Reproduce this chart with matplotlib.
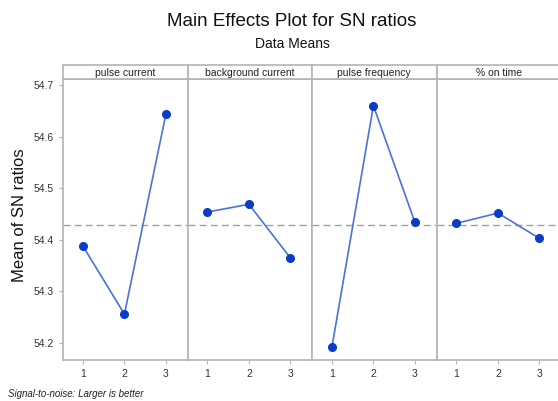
import matplotlib
matplotlib.use("Agg")
import matplotlib.pyplot as plt

plt.rcParams['font.family'] = ['Liberation Sans', 'DejaVu Sans']

factors = ['pulse current', 'background current', 'pulse frequency', '% on time']
levels = [1, 2, 3]
pulse_current = [54.388, 54.256, 54.644]
background_current = [54.454, 54.469, 54.365]
pulse_frequency = [54.192, 54.660, 54.434]
on_time = [54.432, 54.452, 54.403]
series = [pulse_current, background_current, pulse_frequency, on_time]
grand_mean = 54.429
yticks = [54.2, 54.3, 54.4, 54.5, 54.6, 54.7]

W, H = 558, 401
fig = plt.figure(figsize=(W / 100, H / 100), dpi=100)

left, pw = 63, 124.5
bottom, top, strip_top = 360, 79, 65
edge = '#b4b4b4'

for i, (name, vals) in enumerate(zip(factors, series)):
    x0 = left + i * pw
    ax = fig.add_axes([x0 / W, 1 - bottom / H, pw / W, (bottom - top) / H])
    ax.axhline(grand_mean, color='#a0a0a0', ls=(0, (5, 3)), lw=1, zorder=1)
    ax.plot(levels, vals, color='#4a72d8', lw=1.2, zorder=2)
    ax.plot(levels, vals, 'o', color='#0a3cc8', ms=5.5, zorder=3)
    ax.set_xlim(0.52, 3.52)
    ax.set_ylim(54.167, 54.712)
    ax.set_xticks(levels)
    ax.set_yticks(yticks)
    for s in ax.spines.values():
        s.set_color(edge)
        s.set_linewidth(1.2)
    ax.tick_params(colors=edge, labelcolor='#333333', labelsize=7.5, length=3)
    if i > 0:
        ax.tick_params(axis='y', left=False, labelleft=False)
    else:
        ax.set_yticklabels([f'{v:.1f}' for v in yticks])
    # strip header
    sax = fig.add_axes([x0 / W, 1 - top / H, pw / W, (top - strip_top) / H])
    sax.set_xticks([])
    sax.set_yticks([])
    for s in sax.spines.values():
        s.set_color(edge)
        s.set_linewidth(1.2)
    sax.text(0.5, 0.45, name, ha='center', va='center', fontsize=7.5,
             color='#222222', transform=sax.transAxes)

fig.text(292 / W, 1 - 21 / H, 'Main Effects Plot for SN ratios', ha='center',
         va='center', fontsize=13.5, color='#111111')
fig.text(292 / W, 1 - 44 / H, 'Data Means', ha='center', va='center',
         fontsize=10, color='#111111')
fig.text(20 / W, 1 - 215 / H, 'Mean of SN ratios', rotation=90, ha='center',
         va='center', fontsize=12, color='#111111')
fig.text(8 / W, 1 - 394 / H, 'Signal-to-noise: Larger is better', ha='left',
         va='center', fontsize=7, style='italic', color='#222222')

fig.savefig('out.png', dpi=100)
